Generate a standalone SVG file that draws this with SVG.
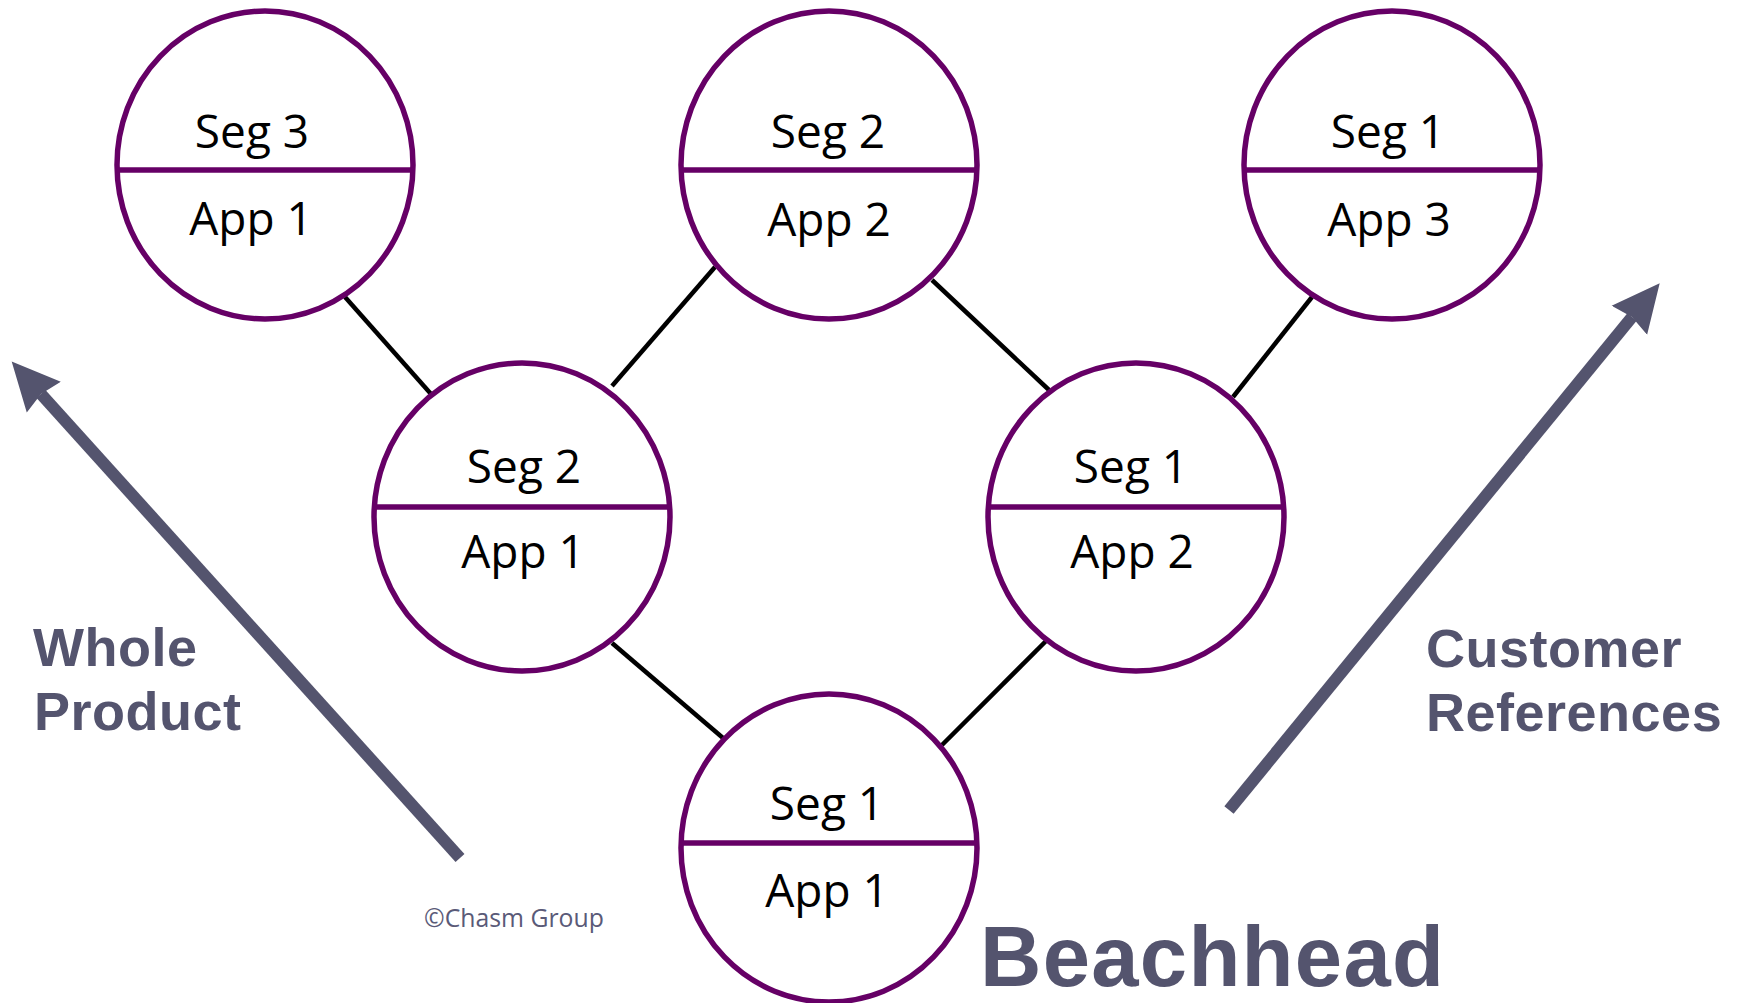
<svg xmlns="http://www.w3.org/2000/svg" width="1744" height="1003" viewBox="0 0 1744 1003">
<style>
.ring{fill:#ffffff;stroke:#660066;stroke-width:5.5}
.div{stroke:#660066;stroke-width:5.5}
.lbl{font-family:"Open Sans","Noto Sans",sans-serif;font-size:46px;fill:#000;text-anchor:middle}
.con{stroke:#000;stroke-width:4.5;fill:none}
.arr{stroke:#54546e;stroke-width:12;fill:none}
.cap{font-family:"Liberation Sans",Arial,sans-serif;font-weight:bold;fill:#54546e;letter-spacing:0.5px}
.big{letter-spacing:1.3px}
</style>
<defs>
<marker id="head" markerUnits="userSpaceOnUse" markerWidth="50" markerHeight="50" viewBox="0 -24 48 48" refX="4" refY="0" orient="auto">
<path d="M46,0 L0,-22 L4,0 L0,22 Z" fill="#54546e"/>
</marker>
</defs>
<rect width="1744" height="1003" fill="#ffffff"/>
<g id="connectors">
<line class="con" x1="345" y1="297" x2="431" y2="394"/>
<line class="con" x1="612" y1="386" x2="715" y2="267"/>
<line class="con" x1="932" y1="280" x2="1049" y2="390"/>
<line class="con" x1="1312" y1="297" x2="1233" y2="397"/>
<line class="con" x1="612" y1="643" x2="723" y2="738"/>
<line class="con" x1="1051" y1="636" x2="942" y2="745"/>
</g>
<g id="node-seg3-app1">
<ellipse class="ring" cx="265" cy="165" rx="148" ry="154"/>
<line class="div" x1="117" y1="170" x2="413" y2="170"/>
<text class="lbl" x="252" y="148">Seg 3</text>
<text class="lbl" x="251" y="235">App 1</text>
</g>
<g id="node-seg2-app2">
<ellipse class="ring" cx="829" cy="165" rx="148" ry="154"/>
<line class="div" x1="681" y1="170" x2="977" y2="170"/>
<text class="lbl" x="828" y="148">Seg 2</text>
<text class="lbl" x="829" y="236">App 2</text>
</g>
<g id="node-seg1-app3">
<ellipse class="ring" cx="1392" cy="165" rx="148" ry="154"/>
<line class="div" x1="1244" y1="170" x2="1540" y2="170"/>
<text class="lbl" x="1388" y="148">Seg 1</text>
<text class="lbl" x="1389" y="236">App 3</text>
</g>
<g id="node-seg2-app1">
<ellipse class="ring" cx="522" cy="517" rx="148" ry="154"/>
<line class="div" x1="374" y1="507" x2="670" y2="507"/>
<text class="lbl" x="524" y="483">Seg 2</text>
<text class="lbl" x="523" y="568">App 1</text>
</g>
<g id="node-seg1-app2">
<ellipse class="ring" cx="1136" cy="517" rx="148" ry="154"/>
<line class="div" x1="988" y1="507" x2="1284" y2="507"/>
<text class="lbl" x="1131" y="483">Seg 1</text>
<text class="lbl" x="1132" y="568">App 2</text>
</g>
<g id="node-seg1-app1">
<ellipse class="ring" cx="829" cy="848" rx="148" ry="154"/>
<line class="div" x1="681" y1="843" x2="977" y2="843"/>
<text class="lbl" x="827" y="820">Seg 1</text>
<text class="lbl" x="827" y="907">App 1</text>
</g>
<g id="arrows">
<line class="arr" x1="460" y1="858" x2="41" y2="394" marker-end="url(#head)"/>
<line class="arr" x1="1229" y1="810" x2="1632" y2="317" marker-end="url(#head)"/>
</g>
<g id="captions">
<text class="cap" x="33" y="666" font-size="54">Whole</text>
<text class="cap" x="34" y="730" font-size="54">Product</text>
<text class="cap" x="1426" y="667" font-size="54">Customer</text>
<text class="cap" x="1426" y="731" font-size="54">References</text>
<text class="cap big" x="980" y="986" font-size="85">Beachhead</text>
<text x="424" y="927" font-family="'Open Sans','Noto Sans',sans-serif" font-size="24.8" fill="#5a5a78">©Chasm Group</text>
</g>
</svg>
